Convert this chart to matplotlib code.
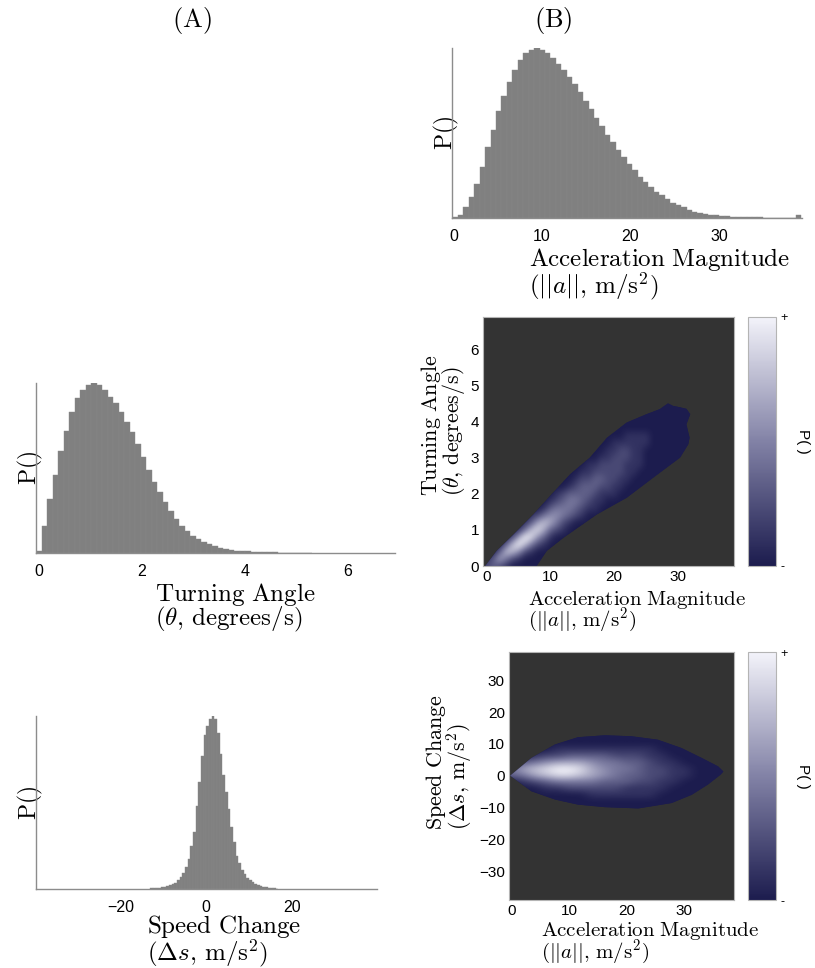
import numpy as np
import matplotlib
matplotlib.use("Agg")
import matplotlib.pyplot as plt
from matplotlib.colors import LinearSegmentedColormap

plt.rcParams["font.family"] = ["Liberation Sans", "DejaVu Sans"]
plt.rcParams["mathtext.fontset"] = "cm"

# ---------------- data ----------------
# acceleration magnitude histogram (normalised bar heights)
ACC_START, ACC_WIDTH = -0.14, 0.616
ACC_HEIGHTS = [0.006, 0.016, 0.065, 0.123, 0.20, 0.30, 0.42, 0.52, 0.63, 0.72,
               0.80, 0.87, 0.93, 0.97, 0.99, 1.00, 0.99, 0.97, 0.94, 0.906,
               0.87, 0.83, 0.79, 0.74, 0.69, 0.64, 0.59, 0.54, 0.49, 0.446,
               0.40, 0.36, 0.32, 0.28, 0.24, 0.21, 0.18, 0.155, 0.133, 0.11,
               0.09, 0.075, 0.062, 0.048, 0.038, 0.03, 0.025, 0.019, 0.015, 0.012,
               0.009, 0.007, 0.006, 0.005, 0.004, 0.003, 0.003, 0.002, 0.002, 0.002,
               0.001, 0.001, 0.001, 0.02]

# turning angle histogram
TURN_START, TURN_WIDTH = -0.06, 0.107
TURN_HEIGHTS = [0.014, 0.157, 0.318, 0.46, 0.60, 0.72, 0.83, 0.91, 0.96, 0.99,
                1.00, 0.99, 0.96, 0.92, 0.88, 0.83, 0.77, 0.71, 0.64, 0.565,
                0.49, 0.42, 0.36, 0.30, 0.245, 0.20, 0.16, 0.127, 0.10, 0.082,
                0.067, 0.051, 0.039, 0.029, 0.024, 0.018, 0.014, 0.011, 0.009, 0.007,
                0.005, 0.004, 0.003, 0.003, 0.002, 0.002, 0.001, 0.001, 0.001, 0.001]

# speed change histogram
SPEED_START, SPEED_WIDTH = -13.02, 0.62
SPEED_HEIGHTS = [0.003, 0.004, 0.005, 0.007, 0.009, 0.012, 0.016, 0.021, 0.028, 0.037,
                 0.05, 0.07, 0.095, 0.13, 0.175, 0.25, 0.33, 0.48, 0.62, 0.77,
                 0.89, 0.94, 0.98, 1.00, 0.98, 0.90, 0.78, 0.66, 0.56, 0.46,
                 0.36, 0.27, 0.19, 0.15, 0.11, 0.085, 0.065, 0.05, 0.038, 0.028,
                 0.021, 0.016, 0.012, 0.009, 0.006, 0.004, 0.003, 0.002]

# turning angle vs acceleration: density levels 0-9, columns u = 0..32, rows v = 0..4.6 (step 0.2)
TA_U = np.arange(0, 33, 1.0)
TA_V = np.arange(0, 4.7, 0.2)
TA_ROWS = [
    "2321",
    "136421",
    "00377521",
    "0003797421",
    "00002698531",
    "0000014786321",
    "00000013676421",
    "0000000124554321",
    "0" * 9 + "134443211",
    "0" * 10 + "123443211",
    "0" * 11 + "1233332111",
    "0" * 13 + "123332211",
    "0" * 14 + "122332211",
    "0" * 15 + "112222211",
    "0" * 16 + "112222111",
    "0" * 18 + "1122211",
    "0" * 19 + "112211",
    "0" * 20 + "111111",
    "0" * 22 + "1111",
    "0", "0", "0", "0", "0",
]
# support of the turning-angle density (upper edge, then lower edge)
TA_UP_X = [-0.3, 1.5, 4.2, 7.3, 10.2, 13.1, 16.2, 18.9, 22.0, 25.1, 27.2, 28.5, 29.3, 30.2, 31.4, 32.0, 31.4, 31.9]
TA_UP_Y = [0.0, 0.42, 0.88, 1.43, 1.99, 2.54, 3.00, 3.55, 3.97, 4.20, 4.34, 4.50, 4.43, 4.40, 4.35, 4.20, 3.92, 3.55]
TA_LO_X = [7.8, 9.4, 12.0, 17.3, 22.0, 26.2, 30.4, 31.7]
TA_LO_Y = [0.0, 0.42, 0.78, 1.43, 1.89, 2.45, 3.00, 3.37]

# speed change vs acceleration: columns u = 0..36 (step 2), rows v = -12..14 (step 2)
SA_U = np.arange(0, 37, 2.0)
SA_V = np.arange(-12, 15, 2.0)
SA_ROWS = [
    "0000000000000000000",
    "0000000000000000000",
    "0000000000000000000",
    "0000000111111000000",
    "0001122222111100000",
    "0123444433322110000",
    "3467887654332211000",
    "4678998654432211000",
    "1345666544332110000",
    "0012233332221100000",
    "0000111111111000000",
    "0000000000000000000",
    "0000000000000000000",
    "0000000000000000000",
]
SA_UP_X = [-0.3, 3.4, 7.5, 11.5, 16.2, 20.8, 25.4, 29.5, 33.0, 35.9, 36.8]
SA_UP_Y = [0.0, 5.6, 9.8, 12.1, 12.7, 12.4, 11.3, 8.7, 5.6, 2.9, 1.3]
SA_LO_X = [-0.3, 3.4, 7.5, 11.5, 16.2, 22.0, 27.8, 31.3, 34.1, 36.3]
SA_LO_Y = [0.0, -4.9, -7.5, -9.1, -9.9, -10.3, -8.6, -6.0, -2.8, 0.3]

# ---------------- styling ----------------
BAR_COLOR = "#808080"
SPINE_COLOR = "#8c8c8c"
DARK_BG = "#333333"
cmap = LinearSegmentedColormap.from_list("navy", ["#1c1c4e", "#8282a6", "#f3f3fa"])

LBL_ACC = r"$\mathrm{Acceleration\ Magnitude}$" + "\n" + r"$(||a||,\,\mathrm{m/s^2})$"
LBL_TURN = r"$\mathrm{Turning\ Angle}$" + "\n" + r"$(\theta,\,\mathrm{degrees/s})$"
LBL_SPEED = r"$\mathrm{Speed\ Change}$" + "\n" + r"$(\Delta s,\,\mathrm{m/s^2})$"
LBL_P = r"$\mathrm{P()}$"

W, H = 815, 968


def rect(left, top, right, bottom):
    return [left / W, 1 - bottom / H, (right - left) / W, (bottom - top) / H]


def histogram(ax, start, width, heights, xlim, xticks, xlabel, lab_x, lab_y):
    lefts = start + width * np.arange(len(heights))
    ax.bar(lefts, heights, width=width, align="edge", color=BAR_COLOR,
           edgecolor="#888888", linewidth=0.3)
    ax.set_xlim(*xlim)
    ax.set_ylim(0, max(heights))
    for s in ["top", "right"]:
        ax.spines[s].set_visible(False)
    for s in ["left", "bottom"]:
        ax.spines[s].set_color(SPINE_COLOR)
        ax.spines[s].set_linewidth(1.0)
    ax.set_yticks([])
    ax.set_xticks(xticks)
    ax.tick_params(axis="x", length=0, labelsize=11.5, pad=8)
    ax.set_xlabel(xlabel, fontsize=18, linespacing=0.85, multialignment="left")
    ax.xaxis.set_label_coords(lab_x, lab_y)
    ax.set_ylabel(LBL_P, fontsize=17)
    ax.yaxis.set_label_coords(0.025, 0.5)


def heatmap(ax, cax, u, v, rows, up_x, up_y, lo_x, lo_y, xlim, ylim, yticks,
            ylabel, ylab_x, ylab_y, xlab_x, xlab_y):
    n = len(u)
    grid = np.array([[int(c) for c in r.ljust(n, "0")] for r in rows], float) / 9.0
    ax.set_facecolor(DARK_BG)
    px = list(up_x) + list(lo_x)[::-1]
    py = list(up_y) + list(lo_y)[::-1]
    poly = ax.fill(px, py, color=cmap(0.0), lw=0, zorder=1)[0]
    du, dv = u[1] - u[0], v[1] - v[0]
    im = ax.imshow(grid, origin="lower", cmap=cmap, vmin=0, vmax=1,
                   extent=[u[0] - du / 2, u[-1] + du / 2, v[0] - dv / 2, v[-1] + dv / 2],
                   interpolation="bicubic", aspect="auto", zorder=2)
    im.set_clip_path(poly)
    ax.set_xlim(*xlim)
    ax.set_ylim(*ylim)
    for s in ax.spines.values():
        s.set_color("#b4b4b4")
        s.set_linewidth(0.8)
    ax.set_xticks([0, 10, 20, 30])
    ax.set_yticks(yticks)
    ax.tick_params(length=0, labelsize=11)
    ax.tick_params(axis="x", pad=3)
    ax.tick_params(axis="y", pad=3)
    ax.set_xlabel(LBL_ACC, fontsize=15, linespacing=0.75, multialignment="left")
    ax.xaxis.set_label_coords(xlab_x, xlab_y)
    ax.set_ylabel(ylabel, fontsize=15.8, linespacing=0.85, multialignment="left")
    ax.yaxis.set_label_coords(ylab_x, ylab_y)

    cb = plt.colorbar(im, cax=cax)
    cb.outline.set_edgecolor("#b4b4b4")
    cb.outline.set_linewidth(0.8)
    cb.set_ticks([0, 1])
    cb.set_ticklabels(["-", "+"])
    cax.tick_params(length=0, labelsize=9, pad=3)
    cax.text(1.96, 0.5, "P( )", rotation=270, transform=cax.transAxes,
             ha="center", va="center", fontsize=11)


fig = plt.figure(figsize=(W / 100, H / 100), dpi=100)

ax_acc = fig.add_axes(rect(452.3, 48, 802, 218))
histogram(ax_acc, ACC_START, ACC_WIDTH, ACC_HEIGHTS, (-0.15, 39.4), [0, 10, 20, 30],
          LBL_ACC, 0.594, -0.165)

ax_turn = fig.add_axes(rect(36, 383, 395, 553))
histogram(ax_turn, TURN_START, TURN_WIDTH, TURN_HEIGHTS, (-0.06, 6.91), [0, 2, 4, 6],
          LBL_TURN, 0.554, -0.163)

ax_speed = fig.add_axes(rect(36, 716, 377, 889))
histogram(ax_speed, SPEED_START, SPEED_WIDTH, SPEED_HEIGHTS, (-39.6, 39.7), [-20, 0, 20],
          LBL_SPEED, 0.551, -0.14)

ax_h1 = fig.add_axes(rect(483.3, 316.7, 734, 566))
cax_1 = fig.add_axes(rect(748, 316.7, 776, 566))
heatmap(ax_h1, cax_1, TA_U, TA_V, TA_ROWS, TA_UP_X, TA_UP_Y, TA_LO_X, TA_LO_Y,
        (-0.6, 38.9), (0, 6.9), [0, 1, 2, 3, 4, 5, 6], LBL_TURN, -0.065, 0.566, 0.615, -0.091)

ax_h2 = fig.add_axes(rect(509, 652, 734.3, 900.3))
cax_2 = fig.add_axes(rect(748, 652, 776, 900.3))
heatmap(ax_h2, cax_2, SA_U, SA_V, SA_ROWS, SA_UP_X, SA_UP_Y, SA_LO_X, SA_LO_Y,
        (-0.5, 38.7), (-39.2, 38.9), [-30, -20, -10, 0, 10, 20, 30], LBL_SPEED, -0.151, 0.555, 0.626, -0.080)

fig.text(192 / W, 1 - 20 / H, r"$\mathrm{(A)}$", ha="center", va="center", fontsize=19)
fig.text(553 / W, 1 - 20 / H, r"$\mathrm{(B)}$", ha="center", va="center", fontsize=19)

fig.savefig("out.png", dpi=100)
